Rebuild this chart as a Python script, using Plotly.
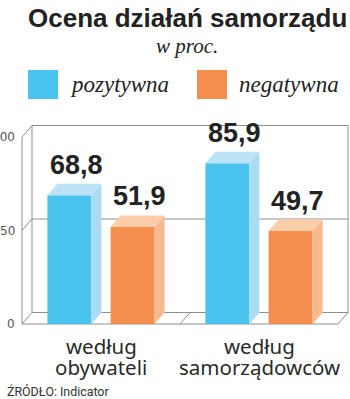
import plotly.graph_objects as go

# ---- data ----
categories = ["według|obywateli", "według|samorządowców"]
series_names = ["pozytywna", "negatywna"]
pozytywna = [68.8, 85.9]
negatywna = [51.9, 49.7]
y_ticks = [0, 50, 100]
title = "Ocena działań samorządu"
subtitle = "w proc."
source = "ŹRÓDŁO: Indicator"

# ---- styling ----
W, H = 350, 399
PX_X = 158.0      # pixels per category unit
X0_PX = 101.0     # pixel of category 0
PX_Y = 1.87       # pixels per value unit
Y0_PX = 324.0     # pixel of value 0
DX = 10.0 / PX_X  # depth offset (x units)
DY = 11.5 / PX_Y  # depth offset (value units)
BAR_W = 44.0 / PX_X
OFFS = [-0.2, 0.2]
front_cols = ["#4AC3EF", "#F48F50"]
side_cols = ["#A9DBF3", "#F8B98E"]
top_cols = ["#BCE4F6", "#FBCDA9"]
grid_col = "#8E8E8E"

xr = [(0 - X0_PX) / PX_X, (W - X0_PX) / PX_X]
yr = [(Y0_PX - H) / PX_Y, Y0_PX / PX_Y]

fig = go.Figure()
xs = list(range(len(categories)))
series = [pozytywna, negatywna]

for s, vals in enumerate(series):
    # front faces
    fig.add_trace(go.Bar(
        x=xs, y=vals, width=BAR_W, offset=OFFS[s] - BAR_W / 2,
        marker=dict(color=front_cols[s], line=dict(width=0)),
        name=series_names[s], showlegend=False, hoverinfo="skip"))
    for i, v in enumerate(vals):
        c = xs[i] + OFFS[s]
        l, r = c - BAR_W / 2, c + BAR_W / 2
        # side face
        fig.add_trace(go.Scatter(
            x=[r, r + DX, r + DX, r, r], y=[0, DY, v + DY, v, 0],
            fill="toself", fillcolor=side_cols[s], mode="lines",
            line=dict(width=0), showlegend=False, hoverinfo="skip"))
        # top face
        fig.add_trace(go.Scatter(
            x=[l, l + DX, r + DX, r, l], y=[v, v + DY, v + DY, v, v],
            fill="toself", fillcolor=top_cols[s], mode="lines",
            line=dict(width=0), showlegend=False, hoverinfo="skip"))
        fig.add_annotation(
            x=c + DX / 2, y=v + DY, text=f"{v:.1f}".replace(".", ","),
            showarrow=False, xshift=2, yshift=19, yanchor="middle",
            font=dict(family="Liberation Sans", size=27, color="#222222", weight="bold"))

# ---- 3D frame (walls and floor) ----
xl, xrgt = -0.5, len(categories) - 0.5
line = dict(color=grid_col, width=1)
shapes = []
for t in y_ticks:
    shapes.append(dict(type="line", x0=xl + DX, x1=xrgt + DX, y0=t + DY, y1=t + DY, line=line, layer="below"))
    shapes.append(dict(type="line", x0=xl, x1=xl + DX, y0=t, y1=t + DY, line=line, layer="below"))
shapes.append(dict(type="line", x0=xl, x1=xl, y0=0, y1=max(y_ticks), line=line, layer="below"))
shapes.append(dict(type="line", x0=xl + DX, x1=xl + DX, y0=DY, y1=max(y_ticks) + DY, line=line, layer="below"))
shapes.append(dict(type="line", x0=xrgt + DX, x1=xrgt + DX, y0=DY, y1=max(y_ticks) + DY, line=line, layer="below"))
shapes.append(dict(type="line", x0=xl, x1=xrgt, y0=0, y1=0, line=line, layer="below"))
for b in range(1, len(categories) + 1):
    shapes.append(dict(type="line", x0=xl + b, x1=xl + b + DX, y0=0, y1=DY, line=line, layer="below"))

# legend squares (paper coords)
leg_x = [28, 197]
for s in range(2):
    shapes.append(dict(type="rect", xref="paper", yref="paper",
                       x0=leg_x[s] / W, x1=(leg_x[s] + 30) / W,
                       y0=1 - 99 / H, y1=1 - 70 / H,
                       fillcolor=front_cols[s], line=dict(width=0)))
fig.update_layout(shapes=shapes)

# tick labels
for t in y_ticks:
    fig.add_annotation(x=xl, y=t, text=str(t), showarrow=False, xanchor="right",
                       xshift=-5, yanchor="middle",
                       font=dict(family="DejaVu Sans", size=12, color="#555555"))

# category labels
for i, cat in enumerate(categories):
    l1, l2 = cat.split("|")
    fig.add_annotation(x=xs[i], y=1 - 346 / H, yref="paper", text=l1, showarrow=False,
                       yanchor="middle", font=dict(family="Noto Sans", size=20.5, color="#2a2a2a"))
    fig.add_annotation(x=xs[i], y=1 - 367 / H, yref="paper", text=l2, showarrow=False,
                       yanchor="middle", font=dict(family="Noto Sans", size=20.5, color="#2a2a2a"))

# titles, legend texts, source
fig.add_annotation(x=187 / W, y=1 - 18 / H, xref="paper", yref="paper", text=title,
                   showarrow=False, yanchor="middle",
                   font=dict(family="Liberation Sans", size=26, color="#222222", weight="bold"))
fig.add_annotation(x=187 / W, y=1 - 46 / H, xref="paper", yref="paper", text=subtitle,
                   showarrow=False, yanchor="middle",
                   font=dict(family="Liberation Serif", size=21, color="#222222", style="italic"))
leg_tx = [68, 237]
for s in range(2):
    fig.add_annotation(x=leg_tx[s] / W, y=1 - 84 / H, xref="paper", yref="paper",
                       text=series_names[s], showarrow=False, xanchor="left", yanchor="middle",
                       font=dict(family="Liberation Serif", size=23, color="#222222", style="italic"))
fig.add_annotation(x=5 / W, y=1 - 391 / H, xref="paper", yref="paper", text=source,
                   showarrow=False, xanchor="left", yanchor="middle",
                   font=dict(family="Roboto", size=12.4, color="#333333"))

fig.update_layout(
    width=W, height=H, margin=dict(l=0, r=0, t=0, b=0),
    paper_bgcolor="white", plot_bgcolor="white", barmode="overlay",
    xaxis=dict(range=xr, visible=False, fixedrange=True),
    yaxis=dict(range=yr, visible=False, fixedrange=True),
    showlegend=False)

fig.write_html("out.html")
